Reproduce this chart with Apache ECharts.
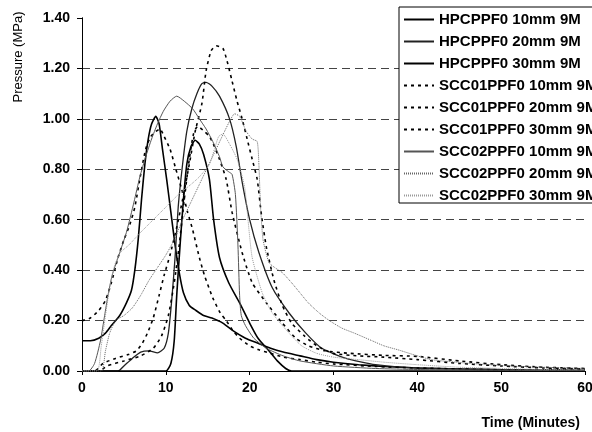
<!DOCTYPE html>
<html><head><meta charset="utf-8">
<script src="https://cdn.jsdelivr.net/npm/echarts@6/dist/echarts.min.js"></script>
<style>html,body{margin:0;padding:0;background:#fff}#c{width:592px;height:432px}</style>
</head><body><div id="c"></div>
<script>
// ---- data (time in minutes, pressure in MPa) ----
var seriesNames = ['HPCPPF0 10mm 9M','HPCPPF0 20mm 9M','HPCPPF0 30mm 9M',
  'SCC01PPF0 10mm 9M','SCC01PPF0 20mm 9M','SCC01PPF0 30mm 9M',
  'SCC02PPF0 10mm 9M','SCC02PPF0 20mm 9M','SCC02PPF0 30mm 9M'];
var xTicks = [0,10,20,30,40,50,60];
var yTicks = [0,0.2,0.4,0.6,0.8,1.0,1.2,1.4];

var hpc10 = [[0,0.12],[1,0.12],[2,0.13],[2.8,0.15],[3.5,0.18],[4.5,0.22],[5.3,0.27],[5.9,0.32],[6.3,0.4],[6.7,0.52],[7.1,0.68],[7.5,0.82],[7.9,0.92],[8.3,0.98],[8.8,1.01],[9.2,0.98],[9.6,0.88],[10.1,0.76],[10.6,0.63],[11.1,0.5],[11.6,0.39],[12.1,0.31],[12.8,0.26],[13.6,0.24],[14.5,0.22],[15.5,0.21],[16.8,0.19],[18,0.16],[19.5,0.13],[21,0.11],[22.5,0.09],[24,0.075],[26,0.06],[28,0.045],[30,0.035],[33,0.025],[36,0.018],[40,0.012],[45,0.008],[50,0.005],[55,0.003],[60,0.002]];
var hpc20 = [[0,0],[4.3,0],[5,0.02],[6,0.05],[7,0.075],[8,0.08],[9,0.072],[9.8,0.09],[10.3,0.15],[10.7,0.28],[11.1,0.45],[11.5,0.66],[12,0.82],[12.5,0.95],[13.1,1.04],[13.7,1.1],[14.3,1.14],[14.8,1.145],[15.5,1.13],[16.4,1.09],[17.6,1.0],[18.4,0.89],[19.1,0.75],[20,0.6],[21.1,0.47],[22.7,0.33],[24.7,0.23],[26.7,0.15],[28.6,0.09],[31.5,0.05],[35,0.025],[40,0.012],[50,0.005],[60,0.002]];
var hpc30 = [[0,0],[10,0],[10.6,0.03],[11,0.12],[11.3,0.3],[11.7,0.5],[12.1,0.68],[12.5,0.82],[13,0.89],[13.5,0.915],[14,0.9],[14.5,0.86],[15.2,0.76],[15.7,0.6],[16.4,0.45],[17.5,0.35],[18.8,0.27],[20,0.19],[21,0.13],[22.3,0.08],[23.3,0.04],[24.3,0.01],[25,0],[60,0]];
var scc01_10 = [[0,0.2],[1,0.21],[2,0.24],[2.8,0.28],[3.5,0.35],[4.3,0.45],[5,0.52],[5.7,0.58],[6.3,0.65],[7,0.78],[7.6,0.88],[8.2,0.93],[8.8,0.95],[9.3,0.96],[9.8,0.93],[10.5,0.88],[11.2,0.8],[11.9,0.72],[12.6,0.63],[13.2,0.56],[14,0.45],[14.6,0.38],[15.6,0.29],[16.5,0.23],[17.2,0.2],[18,0.16],[18.8,0.13],[20,0.1],[21,0.085],[22.5,0.07],[24,0.055],[26,0.045],[28,0.035],[30,0.028],[35,0.018],[40,0.012],[50,0.005],[60,0.003]];
var scc01_20 = [[0,0],[1.5,0],[2.5,0.03],[4,0.05],[5.5,0.065],[6.5,0.08],[7.2,0.11],[7.8,0.15],[8.5,0.21],[9.2,0.3],[9.8,0.38],[10.5,0.46],[11.3,0.57],[12,0.68],[12.8,0.82],[13.5,0.95],[14.3,1.06],[14.8,1.19],[15.4,1.27],[16,1.29],[16.8,1.28],[17.3,1.23],[17.9,1.15],[18.5,1.07],[19.1,1.0],[19.7,0.92],[20.3,0.84],[20.9,0.76],[21.4,0.62],[22,0.49],[22.9,0.36],[23.9,0.26],[25,0.19],[26.5,0.14],[28,0.1],[30,0.07],[33,0.06],[36,0.055],[40,0.045],[45,0.03],[50,0.02],[55,0.012],[60,0.008]];
var scc01_30 = [[0,0],[2,0],[3,0.02],[5,0.04],[7,0.06],[8.5,0.09],[9.5,0.14],[10.3,0.22],[11,0.35],[11.6,0.5],[12.2,0.68],[12.8,0.84],[13.3,0.94],[13.8,0.97],[14.6,0.95],[15.2,0.93],[15.8,0.89],[16.4,0.84],[17.2,0.76],[17.9,0.63],[19.1,0.47],[20.3,0.35],[22,0.27],[23.9,0.19],[25.5,0.13],[27,0.1],[29,0.08],[32,0.07],[36,0.062],[40,0.058],[45,0.04],[50,0.025],[55,0.015],[60,0.01]];
var scc02_10 = [[0,0],[0.8,0],[1.5,0.03],[2.2,0.12],[2.7,0.22],[3.1,0.3],[3.6,0.38],[4.3,0.45],[5.3,0.55],[6.2,0.67],[6.9,0.77],[7.6,0.85],[8.3,0.92],[9,0.98],[9.7,1.03],[10.5,1.07],[11.3,1.09],[12.2,1.07],[13.2,1.04],[14,1.0],[14.8,0.96],[15.6,0.91],[16.4,0.85],[16.8,0.81],[17.5,0.79],[17.9,0.78],[18.3,0.7],[18.6,0.5],[18.8,0.3],[19,0.22],[19.5,0.18],[20.5,0.13],[22,0.09],[24,0.06],[26,0.04],[30,0.02],[35,0.01],[40,0.006],[50,0.003],[60,0.001]];
var scc02_20 = [[0,0],[2.3,0],[2.8,0.08],[3.3,0.15],[4,0.2],[5,0.22],[6,0.25],[7,0.3],[8,0.36],[9,0.41],[10,0.46],[11,0.52],[12,0.6],[13,0.67],[14,0.74],[15,0.81],[16,0.88],[17,0.95],[17.6,0.99],[18.2,1.02],[18.8,1.01],[19.6,0.95],[20.3,0.92],[20.9,0.91],[21.1,0.82],[21.3,0.65],[21.6,0.52],[22.3,0.43],[23,0.41],[23.9,0.39],[25,0.35],[26,0.31],[27,0.27],[28.3,0.23],[29.5,0.2],[31,0.17],[32.5,0.15],[34.6,0.12],[36,0.1],[37.8,0.083],[40,0.06],[41.7,0.045],[44,0.037],[46.4,0.03],[49,0.024],[52.4,0.018],[56,0.014],[60,0.01]];
var scc02_30 = [[0,0],[1.8,0],[2.3,0.1],[2.8,0.22],[3.3,0.33],[3.9,0.42],[4.6,0.47],[5.6,0.5],[7,0.55],[8.5,0.6],[10,0.65],[11.5,0.7],[13,0.74],[14,0.77],[15.2,0.82],[15.8,0.88],[16.3,0.93],[16.8,0.94],[17.6,0.9],[18.5,0.84],[19.4,0.73],[19.8,0.6],[20.3,0.45],[21.5,0.31],[22.7,0.23],[24.7,0.15],[26.2,0.1],[28,0.07],[30,0.055],[33,0.045],[36,0.035],[40,0.025],[45,0.015],[50,0.01],[55,0.006],[60,0.004]];

var seriesData = [hpc10,hpc20,hpc30,scc01_10,scc01_20,scc01_30,scc02_10,scc02_20,scc02_30];
var styles = [
  {color:'#000', width:1.6, type:'solid'},
  {color:'#222', width:1.3, type:'solid'},
  {color:'#000', width:1.6, type:'solid'},
  {color:'#000', width:1.6, type:[3,4]},
  {color:'#000', width:1.6, type:[3,4]},
  {color:'#000', width:1.6, type:[3,4]},
  {color:'#555', width:1, type:'solid'},
  {color:'#666', width:1, type:[1,1]},
  {color:'#999', width:1, type:[1,1]}
];
var FONT = 'Liberation Sans, Arial, sans-serif';

var chart = echarts.init(document.getElementById('c'), null, {renderer:'canvas'});
var series = seriesNames.map(function(n,i){
  return {name:n, type:'line', data:seriesData[i], showSymbol:false, symbol:'none',
    smooth:0.2, color:styles[i].color, lineStyle:styles[i], animation:false, z:2};
});
chart.setOption({
  animation:false,
  backgroundColor:'#fff',
  grid:{left:82, right:7, top:18, bottom:61, show:false, containLabel:false, outerBoundsMode:'none'},
  xAxis:{type:'value', min:xTicks[0], max:xTicks[xTicks.length-1], interval:10,
    axisLine:{show:true, onZero:false, lineStyle:{color:'#000', width:1}},
    axisTick:{show:true, inside:false, length:4, lineStyle:{color:'#000'}},
    axisLabel:{margin:10, color:'#000', fontFamily:FONT, fontWeight:'bold', fontSize:14},
    splitLine:{show:false}},
  yAxis:[{type:'value', min:0, max:1.4, interval:0.2,
    axisLine:{show:true, onZero:false, lineStyle:{color:'#000', width:1}},
    axisTick:{show:true, inside:false, length:5, lineStyle:{color:'#000'}},
    axisLabel:{margin:12, color:'#000', fontFamily:FONT, fontWeight:'bold', fontSize:14,
      formatter:function(v){return v.toFixed(2);}},
    splitLine:{show:true, showMinLine:false, showMaxLine:false, lineStyle:{color:'#444', width:1, type:[8,5]}}},
   {type:'value', min:0, max:1.4, interval:0.2, position:'right',
    axisLine:{show:true, lineStyle:{color:'#000', width:1}},
    axisTick:{show:false}, axisLabel:{show:false}, splitLine:{show:false}}],
  legend:{orient:'vertical', left:399, top:7, padding:[5,40,0,4],
    backgroundColor:'#fff', borderColor:'#000', borderWidth:1, borderRadius:0,
    itemWidth:30, itemHeight:14, itemGap:7, itemStyle:{opacity:0},
    textStyle:{color:'#000', fontFamily:FONT, fontWeight:'bold', fontSize:15, lineHeight:14},
    data:seriesNames, z:10, selectedMode:false},
  graphic:[
    {type:'text', x:18, y:57, rotation:Math.PI/2,
      style:{text:'Pressure (MPa)', font:'13px Liberation Sans, Arial, sans-serif', fill:'#000', align:'center', verticalAlign:'middle'}},
    {type:'text', x:580, y:423,
      style:{text:'Time (Minutes)', font:'bold 14px Liberation Sans, Arial, sans-serif', fill:'#000', align:'right', verticalAlign:'middle'}}
  ],
  series:series
});
</script></body></html>
